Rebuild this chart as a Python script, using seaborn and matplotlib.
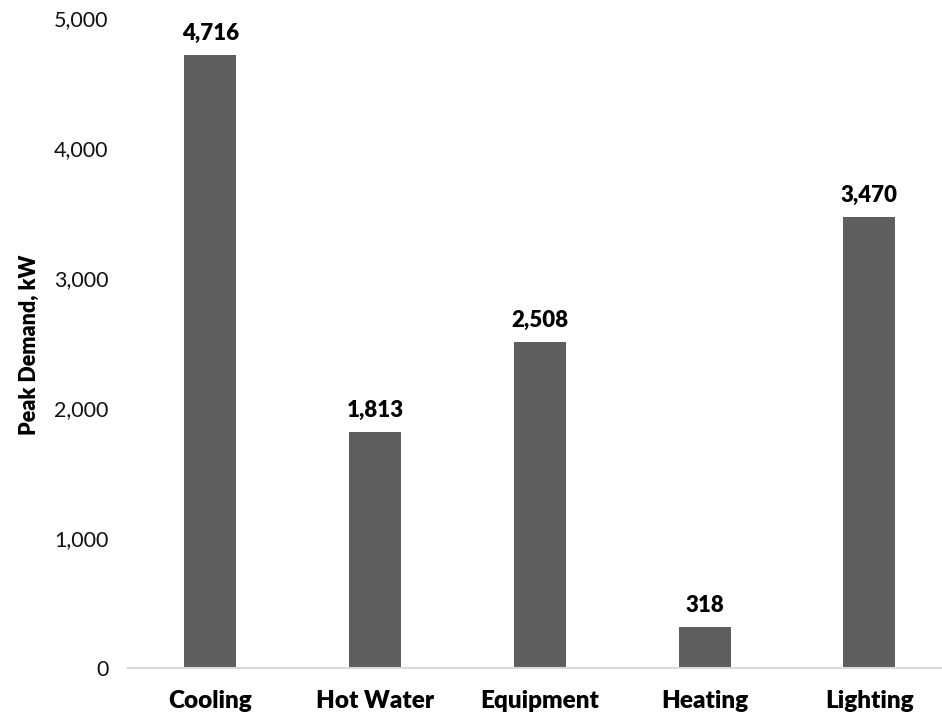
import matplotlib
matplotlib.use("Agg")
import matplotlib.pyplot as plt
import seaborn as sns
import pandas as pd

categories = ["Cooling", "Hot Water", "Equipment", "Heating", "Lighting"]
peak_kw = [4716, 1813, 2508, 318, 3470]
y_ticks = [0, 1000, 2000, 3000, 4000, 5000]

sns.set_theme(style="white")
plt.rcParams["font.family"] = ["Lato", "DejaVu Sans"]

df = pd.DataFrame({"category": categories, "kw": peak_kw})

fig = plt.figure(figsize=(9.42, 7.18), dpi=100)
ax = fig.add_axes([128 / 942, 1 - 668 / 718, 814 / 942, 650 / 718])

sns.barplot(data=df, x="category", y="kw", color="#5f5f5f", saturation=1,
            width=0.316, ax=ax)
for p in ax.patches:
    p.set_edgecolor("none")

ax.set_xlim(-0.5, -0.5 + 814 / 164.75)
ax.set_ylim(0, 5000)
ax.set_yticks(y_ticks)
ax.set_yticklabels([f"{v:,}" for v in y_ticks], fontsize=15.5, color="#111111")
ax.tick_params(axis="y", length=0, pad=14)
ax.tick_params(axis="x", length=0, pad=16)
for lbl in ax.get_xticklabels():
    lbl.set_fontsize(17.5)
    lbl.set_fontweight("heavy")
    lbl.set_color("black")

ax.set_xlabel("")
ax.set_ylabel("")
fig.text(29 / 942, 1 - 345 / 718, "Peak Demand, kW", rotation=90,
         ha="center", va="center", fontsize=15.5, fontweight="heavy",
         color="black")

for s in ["top", "right", "left"]:
    ax.spines[s].set_visible(False)
ax.spines["bottom"].set_color("#d9d9d9")
ax.spines["bottom"].set_linewidth(1.5)
ax.spines["bottom"].set_clip_on(False)

for i, v in enumerate(peak_kw):
    ax.annotate(f"{v:,}", (i, v), xytext=(0, 8), textcoords="offset points",
                ha="center", va="bottom", fontsize=16, fontweight="heavy",
                color="black", annotation_clip=False)

fig.savefig("out.png", dpi=100)
